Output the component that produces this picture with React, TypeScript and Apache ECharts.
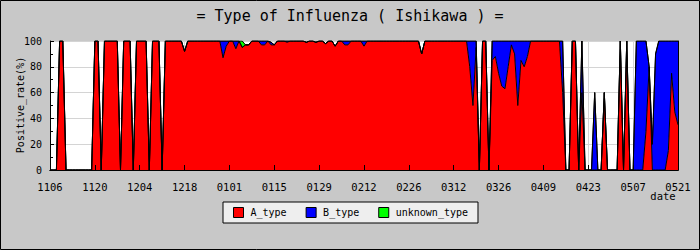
import React, { useEffect, useRef } from "react";
import * as echarts from "echarts";

// Days from 11/06 (index 0) to 05/21 (index 196), one value per day (%)
const TICK_LABELS = ["1106", "1120", "1204", "1218", "0101", "0115", "0129", "0212", "0226", "0312", "0326", "0409", "0423", "0507", "0521"];
const SERIES_NAMES = ["A_type", "B_type", "unknown_type"];

const A_TYPE = [
  0, 0, 0, 100, 100, 0, 0, 0, 0, 0, 0, 0, 0, 0,
  100, 100, 0, 100, 100, 100, 100, 100, 0, 100, 100, 100, 0, 100,
  100, 100, 100, 0, 100, 100, 100, 0, 100, 100, 100, 100, 100, 100,
  92, 100, 100, 100, 100, 100, 100, 100, 100, 100, 100, 100, 87, 96,
  100, 100, 94, 100, 95, 97, 97, 100, 100, 100, 97, 97, 100, 97,
  97, 100, 100, 100, 99, 100, 100, 100, 100, 100, 99, 100, 100, 99,
  100, 100, 98, 100, 100, 96, 100, 100, 97, 97, 100, 100, 100, 100,
  96, 100, 100, 100, 100, 100, 100, 100, 100, 100, 100, 100, 100, 100,
  100, 100, 100, 100, 90, 100, 100, 100, 100, 100, 100, 100, 100, 100,
  100, 100, 100, 100, 100, 80, 50, 95, 0, 100, 100, 0, 85, 88,
  75, 65, 63, 80, 97, 90, 50, 85, 80, 88, 100, 100, 100, 100,
  100, 100, 100, 100, 100, 100, 60, 0, 0, 100, 100, 0, 60, 0,
  0, 0, 0, 0, 0, 60, 0, 0, 0, 0, 100, 0, 100, 0,
  0, 0, 0, 0, 30, 80, 0, 0, 0, 0, 0, 15, 75, 45,
  35,
];

const B_TYPE = [
  0, 0, 0, 0, 0, 0, 0, 0, 0, 0, 0, 0, 0, 0,
  0, 0, 0, 0, 0, 0, 0, 0, 0, 0, 0, 0, 0, 0,
  0, 0, 0, 0, 0, 0, 0, 0, 0, 0, 0, 0, 0, 0,
  0, 0, 0, 0, 0, 0, 0, 0, 0, 0, 0, 0, 13, 4,
  0, 0, 6, 0, 0, 0, 0, 0, 0, 0, 3, 3, 0, 2,
  0, 0, 0, 0, 1, 0, 0, 0, 0, 0, 0, 0, 0, 0,
  0, 0, 0, 0, 0, 0, 0, 0, 3, 3, 0, 0, 0, 0,
  4, 0, 0, 0, 0, 0, 0, 0, 0, 0, 0, 0, 0, 0,
  0, 0, 0, 0, 0, 0, 0, 0, 0, 0, 0, 0, 0, 0,
  0, 0, 0, 0, 0, 20, 50, 5, 0, 0, 0, 0, 15, 12,
  25, 35, 37, 20, 3, 10, 50, 15, 20, 12, 0, 0, 0, 0,
  0, 0, 0, 0, 0, 0, 40, 0, 0, 0, 0, 0, 40, 0,
  0, 0, 60, 0, 0, 0, 0, 0, 0, 0, 0, 0, 0, 0,
  0, 100, 100, 100, 70, 0, 20, 90, 100, 100, 100, 85, 25, 55,
  65,
];

const UNKNOWN_TYPE = [
  0, 0, 0, 0, 0, 0, 0, 0, 0, 0, 0, 0, 0, 0,
  0, 0, 0, 0, 0, 0, 0, 0, 0, 0, 0, 0, 0, 0,
  0, 0, 0, 0, 0, 0, 0, 0, 0, 0, 0, 0, 0, 0,
  0, 0, 0, 0, 0, 0, 0, 0, 0, 0, 0, 0, 0, 0,
  0, 0, 0, 0, 5, 0, 0, 0, 0, 0, 0, 0, 0, 0,
  0, 0, 0, 0, 0, 0, 0, 0, 0, 0, 0, 0, 0, 0,
  0, 0, 0, 0, 0, 0, 0, 0, 0, 0, 0, 0, 0, 0,
  0, 0, 0, 0, 0, 0, 0, 0, 0, 0, 0, 0, 0, 0,
  0, 0, 0, 0, 0, 0, 0, 0, 0, 0, 0, 0, 0, 0,
  0, 0, 0, 0, 0, 0, 0, 0, 0, 0, 0, 0, 0, 0,
  0, 0, 0, 0, 0, 0, 0, 0, 0, 0, 0, 0, 0, 0,
  0, 0, 0, 0, 0, 0, 0, 0, 0, 0, 0, 0, 0, 0,
  0, 0, 0, 0, 0, 0, 0, 0, 0, 0, 0, 0, 0, 0,
  0, 0, 0, 0, 0, 0, 0, 0, 0, 0, 0, 0, 0, 0,
  0,
];

const COLORS = ["#ff0000", "#0000ff", "#00ff00"];
const FONT = "'DejaVu Sans Mono', monospace";
const TICK_EVERY = 14; // one tick label every 14 days

export default function App() {
  const ref = useRef<HTMLDivElement>(null);

  useEffect(() => {
    document.body.style.margin = "0";
    if (!ref.current) return;
    const chart = echarts.init(ref.current, null, { renderer: "svg" });
    const all = [A_TYPE, B_TYPE, UNKNOWN_TYPE];
    const days = A_TYPE.map((_, i) => String(i));
    const isTick = (i: number) => i % TICK_EVERY === 0;

    const areaSeries = all.map((arr, k) => ({
      name: SERIES_NAMES[k],
      type: "line",
      stack: "area",
      data: arr,
      symbol: "none",
      showSymbol: false,
      itemStyle: { color: COLORS[k] },
      lineStyle: { width: 0, color: COLORS[k] },
      areaStyle: { color: COLORS[k], opacity: 1 },
      xAxisIndex: 0,
      yAxisIndex: 0,
      z: 2,
      silent: true,
    }));
    const lineSeries = all.map((arr, k) => ({
      name: SERIES_NAMES[k] + "_edge",
      type: "line",
      stack: "edge",
      data: arr,
      symbol: "none",
      showSymbol: false,
      lineStyle: { width: 1, color: "#000" },
      xAxisIndex: 0,
      yAxisIndex: 0,
      z: 3,
      silent: true,
    }));

    const catAxis = (extra: any) => ({
      type: "category",
      data: days,
      boundaryGap: false,
      ...extra,
    });

    chart.setOption({
      animation: false,
      backgroundColor: "#c8c8c8",
      title: {
        text: "= Type of Influenza ( Ishikawa ) =",
        left: "center",
        top: 3,
        textStyle: { fontFamily: FONT, fontSize: 15, fontWeight: "normal", color: "#000" },
      },
      grid: {
        left: 50,
        top: 41,
        width: 628,
        height: 129,
        show: true,
        backgroundColor: "#ffffff",
        borderWidth: 0,
      },
      legend: {
        data: SERIES_NAMES.map((n, k) => ({
          name: n,
          icon: "rect",
          itemStyle: { color: COLORS[k], borderColor: "#000", borderWidth: 1 },
        })),
        left: 223,
        top: 202,
        padding: [5, 10, 5, 10],
        itemGap: 19,
        itemWidth: 10,
        itemHeight: 10,
        backgroundColor: "#eeeeee",
        borderColor: "#000",
        borderWidth: 1,
        textStyle: { fontFamily: FONT, fontSize: 10, color: "#000", padding: [0, 0, 0, 2] },
        selectedMode: false,
      },
      xAxis: [
        catAxis({
          position: "bottom",
          z: 10,
          axisLine: { show: true, lineStyle: { color: "#000", width: 1 } },
          axisTick: {
            show: true,
            inside: true,
            length: 5,
            interval: (i: number) => isTick(i),
            lineStyle: { color: "#000" },
          },
          axisLabel: {
            show: true,
            margin: 11,
            fontFamily: FONT,
            fontSize: 10.5,
            color: "#000",
            interval: (i: number) => isTick(i),
            formatter: (_v: string, i: number) => TICK_LABELS[i / TICK_EVERY] ?? "",
          },
          splitLine: { show: false },
        }),
        catAxis({
          position: "top",
          z: 10,
          axisLine: { show: true, lineStyle: { color: "#000", width: 1 } },
          axisTick: { show: false },
          axisLabel: { show: false },
          splitLine: { show: false },
        }),
        catAxis({
          z: 0,
          axisLine: { show: false },
          axisTick: { show: false },
          axisLabel: { show: false },
          splitLine: {
            show: true,
            interval: (i: number) => isTick(i),
            lineStyle: { color: "#d4d4d4", width: 1 },
          },
        }),
      ],
      yAxis: [
        {
          type: "value",
          min: 0,
          max: 100,
          interval: 20,
          position: "left",
          z: 10,
          axisLine: { show: true, lineStyle: { color: "#000", width: 1 } },
          axisTick: { show: true, inside: true, length: 4, lineStyle: { color: "#000" } },
          minorTick: { show: true, splitNumber: 2, length: 3, lineStyle: { color: "#000" } },
          axisLabel: { margin: 8, fontFamily: FONT, fontSize: 10, color: "#000" },
          splitLine: { show: false },
        },
        {
          type: "value",
          min: 0,
          max: 100,
          interval: 20,
          position: "right",
          z: 10,
          axisLine: { show: true, lineStyle: { color: "#000", width: 1 } },
          axisTick: { show: false },
          axisLabel: { show: false },
          splitLine: { show: false },
        },
        {
          type: "value",
          min: 0,
          max: 100,
          interval: 20,
          z: 0,
          axisLine: { show: false },
          axisTick: { show: false },
          axisLabel: { show: false },
          splitLine: { show: true, lineStyle: { color: "#d4d4d4", width: 1 } },
        },
      ],
      graphic: [
        {
          type: "text",
          x: 20,
          y: 105,
          rotation: Math.PI / 2,
          style: {
            text: "Positive_rate(%)",
            font: `10px ${FONT}`,
            fill: "#000",
            align: "center",
            verticalAlign: "middle",
          },
        },
        {
          type: "text",
          x: 663,
          y: 196,
          style: {
            text: "date",
            font: `10.5px ${FONT}`,
            fill: "#000",
            align: "center",
            verticalAlign: "middle",
          },
        },
        {
          type: "rect",
          z: 100,
          shape: { x: 0.5, y: 0.5, width: 699, height: 249 },
          style: { fill: "none", stroke: "#000", lineWidth: 1 },
        },
      ],
      series: [...areaSeries, ...lineSeries],
    });
    return () => chart.dispose();
  }, []);

  return <div ref={ref} style={{ width: 700, height: 250 }} />;
}
